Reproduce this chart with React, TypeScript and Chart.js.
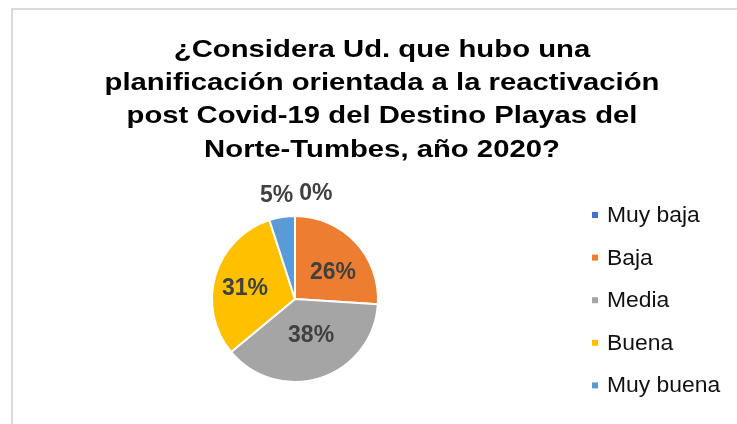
import React, { useEffect, useRef } from "react";
import { Chart, registerables } from "chart.js";

Chart.register(...registerables);

const titleLines = [
  "¿Considera Ud. que hubo una",
  "planificación orientada a la reactivación",
  "post Covid-19 del Destino Playas del",
  "Norte-Tumbes, año 2020?",
];
const categories = ["Muy baja", "Baja", "Media", "Buena", "Muy buena"];
const percentages = [0, 26, 38, 31, 5];
const sliceColors = ["#4472C4", "#ED7D31", "#A5A5A5", "#FFC000", "#5B9BD5"];

const FONT = '"Liberation Sans", Arial, Helvetica, sans-serif';

const decorPlugin = {
  id: "decor",
  beforeDraw(chart: any) {
    const ctx = chart.ctx;
    ctx.save();
    ctx.fillStyle = "#ffffff";
    ctx.fillRect(0, 0, chart.width, chart.height);
    // chart frame (cropped on right/bottom)
    ctx.fillStyle = "#d9d9d9";
    ctx.fillRect(11, 8, chart.width - 11, 2);
    ctx.fillRect(11, 8, 2, chart.height - 8);
    // title
    ctx.fillStyle = "#000000";
    ctx.font = `bold 24px ${FONT}`;
    ctx.textAlign = "center";
    ctx.textBaseline = "alphabetic";
    titleLines.forEach((line, i) => {
      ctx.save();
      ctx.translate(382, 57 + i * 33.2);
      ctx.scale(1.22, 1);
      ctx.fillText(line, 0, 0);
      ctx.restore();
    });
    // legend
    ctx.font = `22px ${FONT}`;
    ctx.textAlign = "left";
    ctx.textBaseline = "middle";
    categories.forEach((c, i) => {
      const y = 215 + i * 42.6;
      ctx.fillStyle = sliceColors[i];
      ctx.fillRect(592, y - 3, 6, 6);
      ctx.fillStyle = "#111111";
      ctx.save();
      ctx.translate(607, y + 1);
      ctx.scale(1.04, 1);
      ctx.fillText(c, 0, 0);
      ctx.restore();
    });
    ctx.restore();
  },
  afterDatasetsDraw(chart: any) {
    const ctx = chart.ctx;
    const meta = chart.getDatasetMeta(0);
    ctx.save();
    ctx.font = `bold 23px ${FONT}`;
    ctx.fillStyle = "#404040";
    ctx.textBaseline = "middle";
    ctx.textAlign = "center";
    let prevRight = -Infinity;
    const outside: any[] = [];
    meta.data.forEach((arc: any, i: number) => {
      const p = arc.getProps(["x", "y", "startAngle", "endAngle", "outerRadius"], true);
      const mid = (p.startAngle + p.endAngle) / 2;
      const v = percentages[i];
      const text = `${v}%`;
      if (v >= 8) {
        const r = p.outerRadius * 0.56;
        const dx = Math.cos(mid) * r;
        const dy = Math.sin(mid) * r;
        // pull labels toward the horizontal midline, as the reference does
        ctx.fillText(text, p.x + dx * 1.12, p.y + dy * 0.82);
      } else {
        const r = p.outerRadius + 22;
        outside.push({ text, x: p.x + Math.cos(mid) * r, y: p.y + Math.sin(mid) * r });
      }
    });
    outside.sort((a, b) => a.x - b.x);
    outside.forEach((o) => {
      const w = ctx.measureText(o.text).width;
      let left = o.x - w / 2 - 2;
      if (left < prevRight + 6) left = prevRight + 6;
      ctx.textAlign = "left";
      ctx.fillText(o.text, left, o.y);
      prevRight = left + w;
    });
    ctx.restore();
  },
};

export default function App() {
  const ref = useRef<HTMLCanvasElement | null>(null);
  useEffect(() => {
    if (!ref.current) return;
    const chart = new Chart(ref.current, {
      type: "pie",
      data: {
        labels: categories,
        datasets: [
          {
            data: percentages,
            backgroundColor: sliceColors,
            borderColor: "#ffffff",
            borderWidth: 2,
            hoverOffset: 0,
            offset: 0,
          },
        ],
      },
      options: {
        responsive: false,
        animation: false,
        devicePixelRatio: 1,
        layout: { padding: { left: 211, top: 215, right: 358, bottom: 41 } },
        plugins: {
          legend: { display: false },
          title: { display: false },
          tooltip: { enabled: false },
        },
      },
      plugins: [decorPlugin],
    });
    return () => chart.destroy();
  }, []);
  return (
    <div style={{ position: "fixed", left: 0, top: 0, width: 737, height: 424, background: "#fff" }}>
      <canvas ref={ref} width={737} height={424} style={{ width: 737, height: 424, display: "block" }} />
    </div>
  );
}
